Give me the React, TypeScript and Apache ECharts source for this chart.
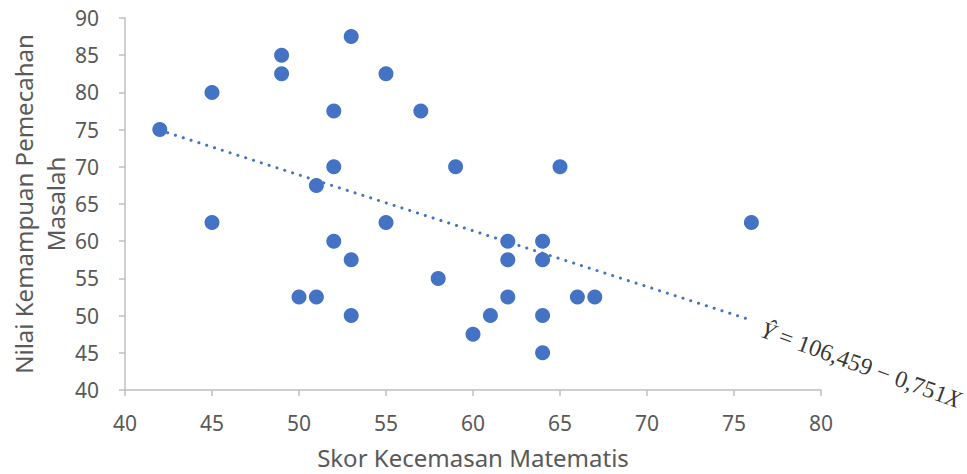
import React, { useEffect, useRef } from "react";
import * as echarts from "echarts";

const xValues: number[] = [42, 45, 45, 49, 49, 50, 51, 51, 52, 52, 52, 53, 53, 53, 55, 55, 57, 58, 59, 60, 61, 62, 62, 62, 64, 64, 64, 64, 65, 66, 67, 76];
const yValues: number[] = [75, 80, 62.5, 85, 82.5, 52.5, 67.5, 52.5, 77.5, 70, 60, 87.5, 57.5, 50, 82.5, 62.5, 77.5, 55, 70, 47.5, 50, 60, 57.5, 52.5, 60, 57.5, 50, 45, 70, 52.5, 52.5, 62.5];

const intercept = 106.459;
const slope = -0.751;
const trendX: number[] = [42, 76];

const xTitle = "Skor Kecemasan Matematis";
const yTitle = "Nilai Kemampuan Pemecahan\nMasalah";

export default function App() {
  const ref = useRef<HTMLDivElement>(null);
  useEffect(() => {
    if (!ref.current) return;
    const chart = echarts.init(ref.current, undefined, { renderer: "svg" });
    const points = xValues.map((x, i) => [x, yValues[i]]);
    const trend = trendX.map((x) => [x, intercept + slope * x]);
    const labelColor = "#595959";
    const axisColor = "#bfbfbf";
    chart.setOption({
      animation: false,
      grid: { left: 125, right: 146, top: 18, bottom: 84, containLabel: false, outerBoundsMode: "none" },
      xAxis: {
        type: "value",
        min: 40,
        max: 80,
        interval: 5,
        name: xTitle,
        nameLocation: "middle",
        nameGap: 55,
        nameMoveOverlap: false,
        nameTextStyle: { color: labelColor, fontSize: 24, fontFamily: "Noto Sans" },
        axisLine: { show: true, lineStyle: { color: axisColor, width: 1.5 } },
        axisTick: { show: true, length: 6, lineStyle: { color: axisColor, width: 1.5 } },
        axisLabel: { color: labelColor, fontSize: 21, fontFamily: "Noto Sans", margin: 22 },
        splitLine: { show: false },
      },
      yAxis: {
        type: "value",
        min: 40,
        max: 90,
        interval: 5,
        name: yTitle,
        nameLocation: "middle",
        nameRotate: 90,
        nameGap: 54,
        nameMoveOverlap: false,
        nameTextStyle: { color: labelColor, fontSize: 24, fontFamily: "Noto Sans", lineHeight: 32 },
        axisLine: { show: true, lineStyle: { color: axisColor, width: 1.5 } },
        axisTick: { show: true, length: 6, lineStyle: { color: axisColor, width: 1.5 } },
        axisLabel: { color: labelColor, fontSize: 21, fontFamily: "Noto Sans", margin: 26 },
        splitLine: { show: false },
      },
      series: [
        {
          type: "line",
          data: trend,
          symbol: "none",
          lineStyle: { color: "#4472C4", width: 3, type: [0.1, 8.1], cap: "round" },
          z: 1,
        },
        {
          type: "scatter",
          data: points,
          symbol: "circle",
          symbolSize: 15,
          itemStyle: { color: "#4472C4", opacity: 1 },
          z: 2,
        },
        {
          type: "scatter",
          data: [trend[trend.length - 1]],
          symbol: "circle",
          symbolSize: 1,
          itemStyle: { color: "rgba(0,0,0,0)" },
          silent: true,
          label: {
            show: true,
            position: "right",
            distance: 13,
            rotate: -20,
            offset: [0, 9],
            color: "#000",
            fontFamily: "Liberation Serif",
            fontSize: 24,
            formatter: "{i|Ŷ} = 106,459 − 0,751{i|X}",
            rich: {
              i: { fontStyle: "italic", fontFamily: "Liberation Serif", fontSize: 24, color: "#000" },
            },
          },
          z: 3,
        },
      ],
    });
    return () => chart.dispose();
  }, []);
  return (
    <div
      ref={ref}
      style={{ position: "fixed", left: 0, top: 0, width: 967, height: 474, background: "#fff" }}
    />
  );
}
